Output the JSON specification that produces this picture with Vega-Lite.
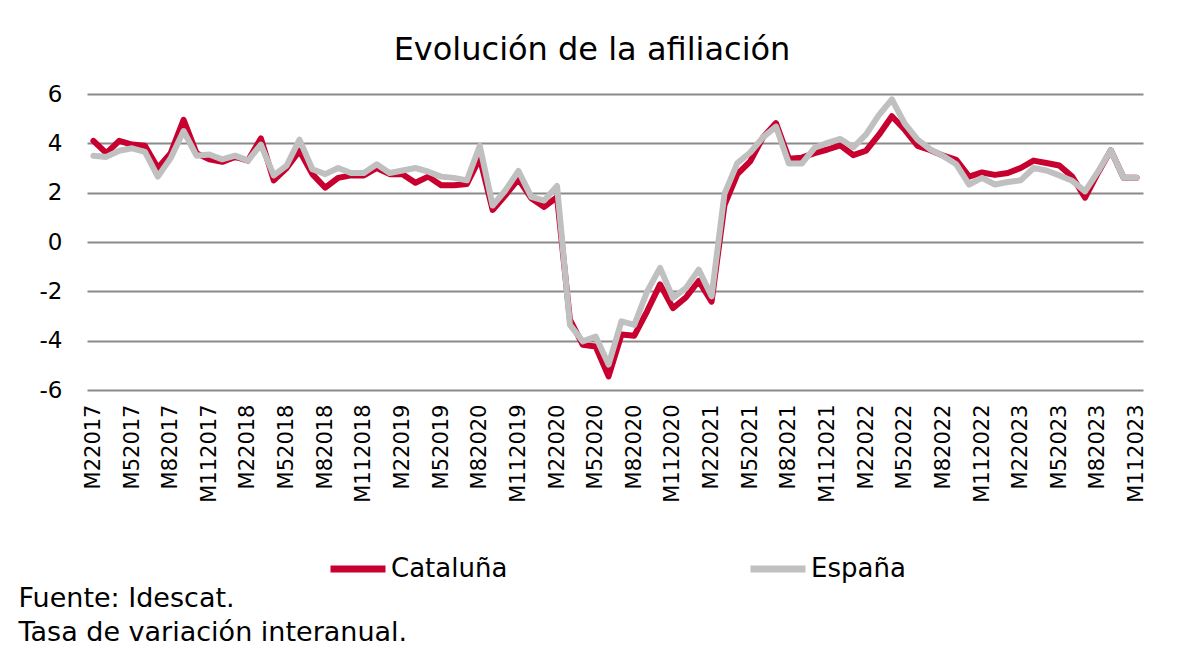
{
  "$schema": "https://vega.github.io/schema/vega-lite/v6.json",
  "width": 1056,
  "height": 296,
  "autosize": {"type": "none"},
  "padding": {"left": 87, "top": 94, "right": 36, "bottom": 258},
  "background": "white",
  "config": {
    "font": "DejaVu Sans",
    "view": {"stroke": null}
  },
  "title": {
    "text": "Evolución de la afiliación",
    "fontSize": 32,
    "fontWeight": "normal",
    "color": "#000000",
    "anchor": "middle",
    "dx": -23,
    "offset": 16
  },
  "data": {
    "values": [
      {"mes": "M22017", "serie": "Cataluña", "valor": 4.1},
      {"mes": "M32017", "serie": "Cataluña", "valor": 3.6},
      {"mes": "M42017", "serie": "Cataluña", "valor": 4.1},
      {"mes": "M52017", "serie": "Cataluña", "valor": 3.95},
      {"mes": "M62017", "serie": "Cataluña", "valor": 3.9},
      {"mes": "M72017", "serie": "Cataluña", "valor": 3.0},
      {"mes": "M82017", "serie": "Cataluña", "valor": 3.6},
      {"mes": "M92017", "serie": "Cataluña", "valor": 4.95},
      {"mes": "M102017", "serie": "Cataluña", "valor": 3.6},
      {"mes": "M112017", "serie": "Cataluña", "valor": 3.35},
      {"mes": "M122017", "serie": "Cataluña", "valor": 3.25},
      {"mes": "M12018", "serie": "Cataluña", "valor": 3.45},
      {"mes": "M22018", "serie": "Cataluña", "valor": 3.3},
      {"mes": "M32018", "serie": "Cataluña", "valor": 4.2},
      {"mes": "M42018", "serie": "Cataluña", "valor": 2.5},
      {"mes": "M52018", "serie": "Cataluña", "valor": 3.0},
      {"mes": "M62018", "serie": "Cataluña", "valor": 3.7},
      {"mes": "M72018", "serie": "Cataluña", "valor": 2.75},
      {"mes": "M82018", "serie": "Cataluña", "valor": 2.2},
      {"mes": "M92018", "serie": "Cataluña", "valor": 2.6},
      {"mes": "M102018", "serie": "Cataluña", "valor": 2.7},
      {"mes": "M112018", "serie": "Cataluña", "valor": 2.7},
      {"mes": "M122018", "serie": "Cataluña", "valor": 3.0},
      {"mes": "M12019", "serie": "Cataluña", "valor": 2.75},
      {"mes": "M22019", "serie": "Cataluña", "valor": 2.75},
      {"mes": "M32019", "serie": "Cataluña", "valor": 2.4},
      {"mes": "M42019", "serie": "Cataluña", "valor": 2.65},
      {"mes": "M52019", "serie": "Cataluña", "valor": 2.3},
      {"mes": "M62019", "serie": "Cataluña", "valor": 2.3},
      {"mes": "M72019", "serie": "Cataluña", "valor": 2.35},
      {"mes": "M82019", "serie": "Cataluña", "valor": 3.4},
      {"mes": "M92019", "serie": "Cataluña", "valor": 1.3},
      {"mes": "M102019", "serie": "Cataluña", "valor": 1.9},
      {"mes": "M112019", "serie": "Cataluña", "valor": 2.55},
      {"mes": "M122019", "serie": "Cataluña", "valor": 1.77},
      {"mes": "M12020", "serie": "Cataluña", "valor": 1.42},
      {"mes": "M22020", "serie": "Cataluña", "valor": 1.82},
      {"mes": "M32020", "serie": "Cataluña", "valor": -3.15},
      {"mes": "M42020", "serie": "Cataluña", "valor": -4.17},
      {"mes": "M52020", "serie": "Cataluña", "valor": -4.24},
      {"mes": "M62020", "serie": "Cataluña", "valor": -5.45},
      {"mes": "M72020", "serie": "Cataluña", "valor": -3.75},
      {"mes": "M82020", "serie": "Cataluña", "valor": -3.8},
      {"mes": "M92020", "serie": "Cataluña", "valor": -2.8},
      {"mes": "M102020", "serie": "Cataluña", "valor": -1.72},
      {"mes": "M112020", "serie": "Cataluña", "valor": -2.68},
      {"mes": "M122020", "serie": "Cataluña", "valor": -2.25},
      {"mes": "M12021", "serie": "Cataluña", "valor": -1.58},
      {"mes": "M22021", "serie": "Cataluña", "valor": -2.42},
      {"mes": "M32021", "serie": "Cataluña", "valor": 1.5},
      {"mes": "M42021", "serie": "Cataluña", "valor": 2.75},
      {"mes": "M52021", "serie": "Cataluña", "valor": 3.27},
      {"mes": "M62021", "serie": "Cataluña", "valor": 4.25},
      {"mes": "M72021", "serie": "Cataluña", "valor": 4.82},
      {"mes": "M82021", "serie": "Cataluña", "valor": 3.38},
      {"mes": "M92021", "serie": "Cataluña", "valor": 3.42},
      {"mes": "M102021", "serie": "Cataluña", "valor": 3.6},
      {"mes": "M112021", "serie": "Cataluña", "valor": 3.75},
      {"mes": "M122021", "serie": "Cataluña", "valor": 3.92},
      {"mes": "M12022", "serie": "Cataluña", "valor": 3.52},
      {"mes": "M22022", "serie": "Cataluña", "valor": 3.7},
      {"mes": "M32022", "serie": "Cataluña", "valor": 4.35},
      {"mes": "M42022", "serie": "Cataluña", "valor": 5.1},
      {"mes": "M52022", "serie": "Cataluña", "valor": 4.55},
      {"mes": "M62022", "serie": "Cataluña", "valor": 3.9},
      {"mes": "M72022", "serie": "Cataluña", "valor": 3.72},
      {"mes": "M82022", "serie": "Cataluña", "valor": 3.5},
      {"mes": "M92022", "serie": "Cataluña", "valor": 3.33},
      {"mes": "M102022", "serie": "Cataluña", "valor": 2.65},
      {"mes": "M112022", "serie": "Cataluña", "valor": 2.82},
      {"mes": "M122022", "serie": "Cataluña", "valor": 2.72},
      {"mes": "M12023", "serie": "Cataluña", "valor": 2.8},
      {"mes": "M22023", "serie": "Cataluña", "valor": 3.0},
      {"mes": "M32023", "serie": "Cataluña", "valor": 3.3},
      {"mes": "M42023", "serie": "Cataluña", "valor": 3.2},
      {"mes": "M52023", "serie": "Cataluña", "valor": 3.1},
      {"mes": "M62023", "serie": "Cataluña", "valor": 2.65},
      {"mes": "M72023", "serie": "Cataluña", "valor": 1.8},
      {"mes": "M82023", "serie": "Cataluña", "valor": 2.8},
      {"mes": "M92023", "serie": "Cataluña", "valor": 3.72},
      {"mes": "M102023", "serie": "Cataluña", "valor": 2.6},
      {"mes": "M112023", "serie": "Cataluña", "valor": 2.6},
      {"mes": "M22017", "serie": "España", "valor": 3.5},
      {"mes": "M32017", "serie": "España", "valor": 3.45},
      {"mes": "M42017", "serie": "España", "valor": 3.7},
      {"mes": "M52017", "serie": "España", "valor": 3.8},
      {"mes": "M62017", "serie": "España", "valor": 3.65},
      {"mes": "M72017", "serie": "España", "valor": 2.65},
      {"mes": "M82017", "serie": "España", "valor": 3.4},
      {"mes": "M92017", "serie": "España", "valor": 4.5},
      {"mes": "M102017", "serie": "España", "valor": 3.5},
      {"mes": "M112017", "serie": "España", "valor": 3.55},
      {"mes": "M122017", "serie": "España", "valor": 3.35},
      {"mes": "M12018", "serie": "España", "valor": 3.5},
      {"mes": "M22018", "serie": "España", "valor": 3.3},
      {"mes": "M32018", "serie": "España", "valor": 3.95},
      {"mes": "M42018", "serie": "España", "valor": 2.7},
      {"mes": "M52018", "serie": "España", "valor": 3.1},
      {"mes": "M62018", "serie": "España", "valor": 4.15},
      {"mes": "M72018", "serie": "España", "valor": 2.95},
      {"mes": "M82018", "serie": "España", "valor": 2.75},
      {"mes": "M92018", "serie": "España", "valor": 3.0},
      {"mes": "M102018", "serie": "España", "valor": 2.8},
      {"mes": "M112018", "serie": "España", "valor": 2.8},
      {"mes": "M122018", "serie": "España", "valor": 3.15},
      {"mes": "M12019", "serie": "España", "valor": 2.8},
      {"mes": "M22019", "serie": "España", "valor": 2.9},
      {"mes": "M32019", "serie": "España", "valor": 3.0},
      {"mes": "M42019", "serie": "España", "valor": 2.85},
      {"mes": "M52019", "serie": "España", "valor": 2.65},
      {"mes": "M62019", "serie": "España", "valor": 2.6},
      {"mes": "M72019", "serie": "España", "valor": 2.5},
      {"mes": "M82019", "serie": "España", "valor": 3.9},
      {"mes": "M92019", "serie": "España", "valor": 1.48},
      {"mes": "M102019", "serie": "España", "valor": 2.1},
      {"mes": "M112019", "serie": "España", "valor": 2.88},
      {"mes": "M122019", "serie": "España", "valor": 1.83},
      {"mes": "M12020", "serie": "España", "valor": 1.68},
      {"mes": "M22020", "serie": "España", "valor": 2.27},
      {"mes": "M32020", "serie": "España", "valor": -3.36},
      {"mes": "M42020", "serie": "España", "valor": -4.03},
      {"mes": "M52020", "serie": "España", "valor": -3.83},
      {"mes": "M62020", "serie": "España", "valor": -4.97},
      {"mes": "M72020", "serie": "España", "valor": -3.22},
      {"mes": "M82020", "serie": "España", "valor": -3.36},
      {"mes": "M92020", "serie": "España", "valor": -2.0},
      {"mes": "M102020", "serie": "España", "valor": -1.05},
      {"mes": "M112020", "serie": "España", "valor": -2.27},
      {"mes": "M122020", "serie": "España", "valor": -1.87},
      {"mes": "M12021", "serie": "España", "valor": -1.12},
      {"mes": "M22021", "serie": "España", "valor": -2.2},
      {"mes": "M32021", "serie": "España", "valor": 1.95},
      {"mes": "M42021", "serie": "España", "valor": 3.2},
      {"mes": "M52021", "serie": "España", "valor": 3.63},
      {"mes": "M62021", "serie": "España", "valor": 4.25},
      {"mes": "M72021", "serie": "España", "valor": 4.68},
      {"mes": "M82021", "serie": "España", "valor": 3.18},
      {"mes": "M92021", "serie": "España", "valor": 3.18},
      {"mes": "M102021", "serie": "España", "valor": 3.82},
      {"mes": "M112021", "serie": "España", "valor": 4.02},
      {"mes": "M122021", "serie": "España", "valor": 4.18},
      {"mes": "M12022", "serie": "España", "valor": 3.84},
      {"mes": "M22022", "serie": "España", "valor": 4.36},
      {"mes": "M32022", "serie": "España", "valor": 5.15},
      {"mes": "M42022", "serie": "España", "valor": 5.78},
      {"mes": "M52022", "serie": "España", "valor": 4.8},
      {"mes": "M62022", "serie": "España", "valor": 4.15},
      {"mes": "M72022", "serie": "España", "valor": 3.75},
      {"mes": "M82022", "serie": "España", "valor": 3.48},
      {"mes": "M92022", "serie": "España", "valor": 3.15},
      {"mes": "M102022", "serie": "España", "valor": 2.33},
      {"mes": "M112022", "serie": "España", "valor": 2.6},
      {"mes": "M122022", "serie": "España", "valor": 2.33},
      {"mes": "M12023", "serie": "España", "valor": 2.43},
      {"mes": "M22023", "serie": "España", "valor": 2.5},
      {"mes": "M32023", "serie": "España", "valor": 3.0},
      {"mes": "M42023", "serie": "España", "valor": 2.9},
      {"mes": "M52023", "serie": "España", "valor": 2.7},
      {"mes": "M62023", "serie": "España", "valor": 2.48},
      {"mes": "M72023", "serie": "España", "valor": 2.05},
      {"mes": "M82023", "serie": "España", "valor": 2.85},
      {"mes": "M92023", "serie": "España", "valor": 3.72},
      {"mes": "M102023", "serie": "España", "valor": 2.6},
      {"mes": "M112023", "serie": "España", "valor": 2.6}
    ]
  },
  "mark": {"type": "line", "strokeWidth": 6, "strokeJoin": "round", "strokeCap": "round"},
  "encoding": {
    "x": {
      "field": "mes",
      "type": "ordinal",
      "sort": null,
      "scale": {"type": "point", "padding": 0.5},
      "axis": {
        "values": ["M22017","M52017","M82017","M112017","M22018","M52018","M82018","M112018","M22019","M52019","M82019","M112019","M22020","M52020","M82020","M112020","M22021","M52021","M82021","M112021","M22022","M52022","M82022","M112022","M22023","M52023","M82023","M112023"],
        "labelExpr": "datum.value == 'M82019' ? 'M82020' : datum.value",
        "labelAngle": -90,
        "labelAlign": "right",
        "labelBaseline": "middle",
        "labelFontSize": 21,
        "labelColor": "#000000",
        "labelPadding": 14,
        "ticks": false,
        "domain": false,
        "grid": false,
        "labelOverlap": false,
        "title": ["Fuente: Idescat.", "Tasa de variación interanual."],
        "titleFontSize": 27,
        "titleFontWeight": "normal",
        "titleColor": "#000000",
        "titleAlign": "left",
        "titleAnchor": "start",
        "titleAngle": 0,
        "titleBaseline": "alphabetic",
        "titleX": -69,
        "titleY": 216,
        "titleLineHeight": 34
      }
    },
    "y": {
      "field": "valor",
      "type": "quantitative",
      "scale": {"domain": [-6, 6], "nice": false, "zero": false},
      "axis": {
        "values": [-6, -4, -2, 0, 2, 4, 6],
        "labelExpr": "toString(datum.value)",
        "labelFontSize": 23,
        "labelColor": "#000000",
        "labelPadding": 25,
        "ticks": false,
        "domain": false,
        "grid": true,
        "gridColor": "#8a8a8a",
        "gridWidth": 2,
        "title": null
      }
    },
    "color": {
      "field": "serie",
      "type": "nominal",
      "scale": {"domain": ["Cataluña", "España"], "range": ["#C8002F", "#C0C0C0"]},
      "legend": {
        "title": null,
        "orient": "none",
        "direction": "horizontal",
        "legendX": 240,
        "legendY": 444,
        "symbolType": "stroke",
        "symbolSize": 3025,
        "symbolStrokeWidth": 7,
        "labelFontSize": 26,
        "labelColor": "#000000",
        "labelOffset": 2,
        "columnPadding": 228
      }
    }
  }
}
